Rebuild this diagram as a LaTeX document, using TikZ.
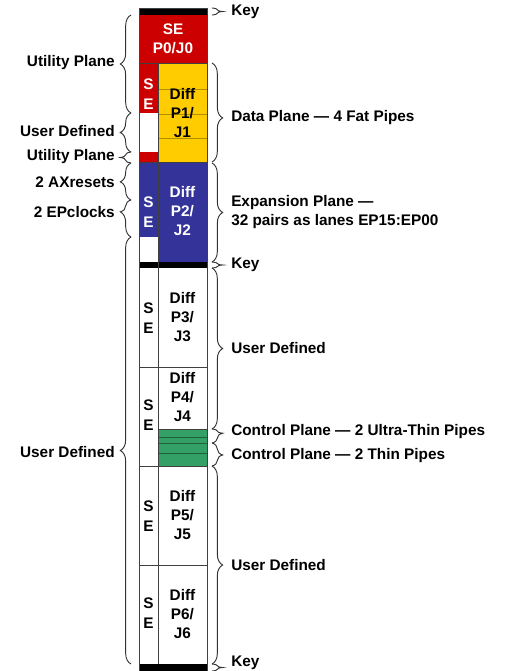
\documentclass[tikz,border=0pt]{standalone}
\usepackage{fontspec}
\setmainfont{Liberation Sans}
\usetikzlibrary{decorations.pathreplacing}
\definecolor{utilred}{RGB}{204,0,0}
\definecolor{datayellow}{RGB}{255,204,0}
\definecolor{expblue}{RGB}{51,51,153}
\definecolor{ctrlgreen}{RGB}{51,160,102}

\begin{document}
\begin{tikzpicture}[
    x=0.75pt, y=-0.75pt,
    cell/.style={draw=black!75, line width=0.6pt},
    lane/.style={line width=0.4pt},
    txt/.style={
      font=\bfseries\fontsize{11.5}{14.5}\selectfont,
      align=center,
      inner sep=0pt
    },
    llabel/.style={txt, anchor=east, align=right},
    rlabel/.style={txt, anchor=west, align=left},
    lbrace/.style={decorate, decoration={brace, amplitude=8pt}, draw=black!80, line width=0.7pt}
]
\clip (0,0) rectangle (505,671);

% fills of the column
\fill[black] (139,8) rectangle (207,15);
\fill[utilred] (139,15) rectangle (207,63);
\fill[datayellow] (158,63) rectangle (207,162);
\fill[utilred] (139,63) rectangle (158,113);
\fill[utilred] (139,152) rectangle (158,162);
\fill[expblue] (158,162) rectangle (207,262);
\fill[expblue] (139,162) rectangle (158,237);
\fill[black] (139,262) rectangle (207,268);
\fill[ctrlgreen] (158,429) rectangle (207,466);
\fill[black] (139,664) rectangle (207,671);

% lanes
\foreach \y in {89,114,138}
  \draw[lane, draw=datayellow!70!black] (158,\y) -- (207,\y);
\foreach \y in {437,443,453}
  \draw[lane, draw=ctrlgreen!60!black] (158,\y) -- (207,\y);

% outline
\draw[cell] (139,8) rectangle (207,671);
\draw[cell] (158,63) -- (158,664);
\foreach \y in {63,162,367,466,565}
  \draw[cell] (139,\y) -- (207,\y);
\draw[cell] (158,429) -- (207,429);

% texts in the column
\node[txt, text=white] (p0) at (173,39) {SE\\P0/J0};
\node[txt] (p1) at (182.5,113) {Diff\\P1/\\J1};
\node[txt, text=white] (se1) at (148.5,94) {S\\E};
\node[txt, text=white] (p2) at (182.5,211) {Diff\\P2/\\J2};
\node[txt, text=white] (se2) at (148.5,212) {S\\E};
\node[txt] (p3) at (182.5,317) {Diff\\P3/\\J3};
\node[txt] (se3) at (148.5,318) {S\\E};
\node[txt] (p4) at (182.5,397) {Diff\\P4/\\J4};
\node[txt] (se4) at (148.5,415) {S\\E};
\node[txt] (p5) at (182.5,515) {Diff\\P5/\\J5};
\node[txt] (se5) at (148.5,516) {S\\E};
\node[txt] (p6) at (182.5,614) {Diff\\P6/\\J6};
\node[txt] (se6) at (148.5,613) {S\\E};

% left braces
\draw[lbrace] (131,113) -- (131,15);
\draw[lbrace] (131,152) -- (131,113);
\draw[lbrace] (131,163) -- (131,152);
\draw[lbrace, decoration={aspect=0.49}] (131,200) -- (131,163);
\draw[lbrace, decoration={aspect=0.68}] (131,237) -- (131,200);
\draw[lbrace] (131,664) -- (131,237);

\node[llabel] (util1) at (115,63) {Utility Plane};
\node[llabel] (user1) at (115,131) {User Defined};
\node[llabel] (util2) at (115,157) {Utility Plane};
\node[llabel] (axres) at (115,182) {2 AXresets};
\node[llabel] (epclk) at (115,212) {2 EPclocks};
\node[llabel] (user2) at (115,452) {User Defined};

% right braces
\draw[lbrace] (212,8) -- (212,15);
\draw[lbrace, decoration={aspect=0.555}] (212,63) -- (212,162);
\draw[lbrace] (212,163) -- (212,262);
\draw[lbrace] (212,262) -- (212,268);
\draw[lbrace] (212,268) -- (212,429);
\draw[lbrace, decoration={aspect=0.3}] (212,429) -- (212,443);
\draw[lbrace, decoration={aspect=0.52}] (212,443) -- (212,466);
\draw[lbrace] (212,466) -- (212,664);
\draw[lbrace] (212,664) -- (212,671);

\node[rlabel] (key1) at (231,12) {Key};
\node[rlabel] (data) at (231,118) {Data Plane — 4 Fat Pipes};
\node[rlabel] (expn) at (231,212) {Expansion Plane —\\32 pairs as lanes EP15:EP00};
\node[rlabel] (key2) at (231,265) {Key};
\node[rlabel] (user3) at (231,348) {User Defined};
\node[rlabel] (ctrl1) at (231,432) {Control Plane — 2 Ultra-Thin Pipes};
\node[rlabel] (ctrl2) at (231,456) {Control Plane — 2 Thin Pipes};
\node[rlabel] (user4) at (231,565) {User Defined};
\node[rlabel] (key3) at (231,663) {Key};
\end{tikzpicture}
\end{document}
